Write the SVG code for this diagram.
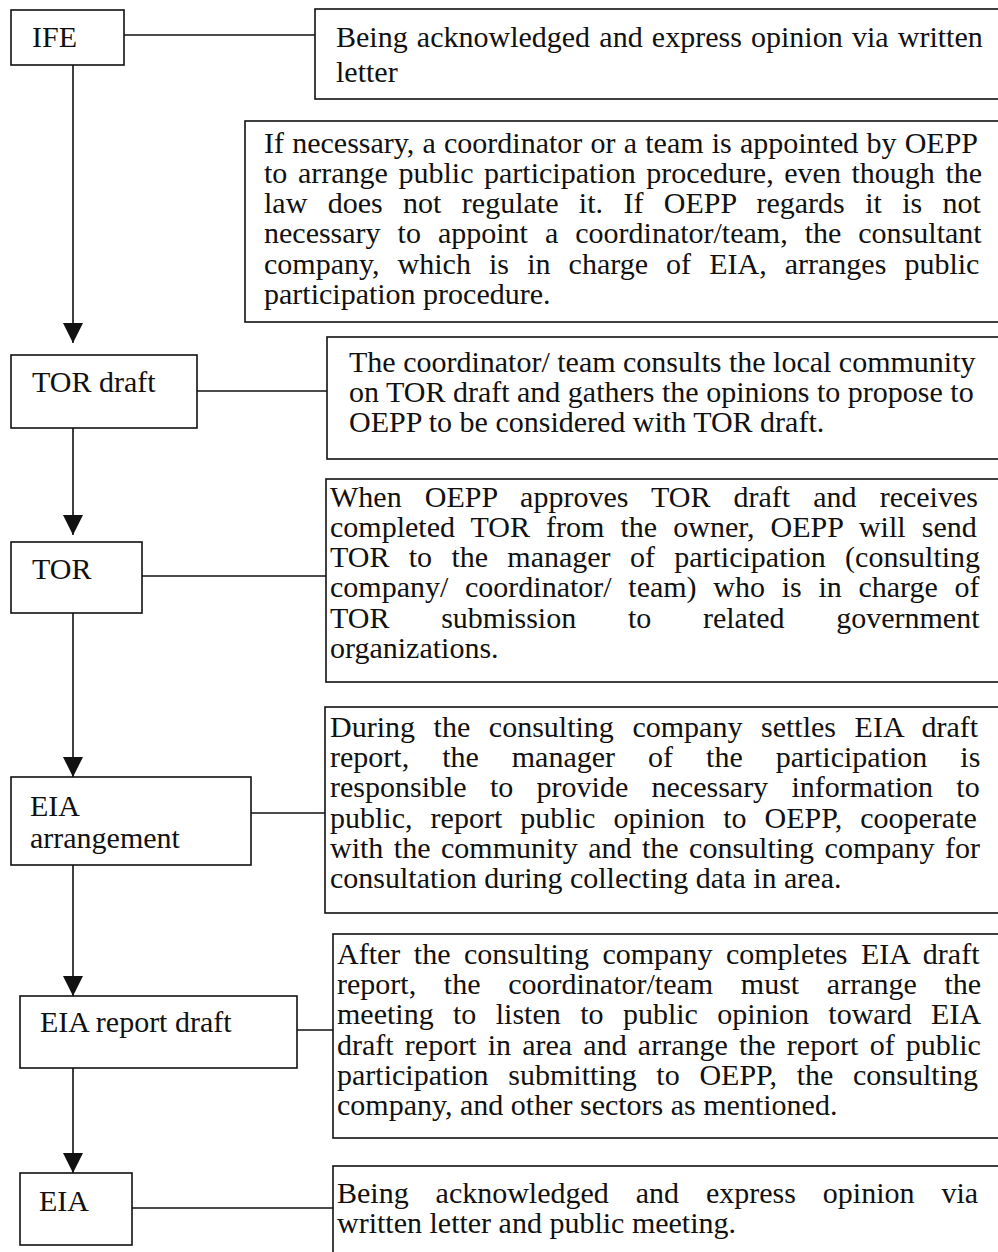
<svg xmlns="http://www.w3.org/2000/svg" width="998" height="1252" viewBox="0 0 998 1252">
  <style>
    .box { fill: #ffffff; stroke: #111111; stroke-width: 1.6; }
    .line { fill: none; stroke: #111111; stroke-width: 1.6; }
    .t { font-family: "Liberation Serif", "Times New Roman", serif; font-size: 30px; fill: #111111; }
  </style>
  <defs>
    <marker id="arrow" markerUnits="userSpaceOnUse" markerWidth="22" markerHeight="22" refX="20" refY="10" orient="auto">
      <path d="M0,0 L20,10 L0,20 Z" fill="#111111"/>
    </marker>
  </defs>

  <rect width="998" height="1252" fill="#ffffff"/>

  <!-- connectors -->
  <g id="connectors">
    <line class="line" x1="73" y1="65" x2="73" y2="343" marker-end="url(#arrow)"/>
    <line class="line" x1="73" y1="428" x2="73" y2="535" marker-end="url(#arrow)"/>
    <line class="line" x1="73" y1="613" x2="73" y2="777" marker-end="url(#arrow)"/>
    <line class="line" x1="73" y1="865" x2="73" y2="996" marker-end="url(#arrow)"/>
    <line class="line" x1="73" y1="1068" x2="73" y2="1173" marker-end="url(#arrow)"/>
    <line class="line" x1="124" y1="35" x2="315" y2="35"/>
    <line class="line" x1="197" y1="391" x2="327" y2="391"/>
    <line class="line" x1="142" y1="576" x2="326" y2="576"/>
    <line class="line" x1="251" y1="813" x2="325" y2="813"/>
    <line class="line" x1="297" y1="1030" x2="333" y2="1030"/>
    <line class="line" x1="132" y1="1208" x2="333" y2="1208"/>
  </g>

  <!-- process steps -->
  <g id="step-ife">
    <rect class="box" x="11" y="10" width="113" height="55"/>
    <text class="t" x="32" y="47">IFE</text>
  </g>
  <g id="step-tor-draft">
    <rect class="box" x="11" y="355" width="186" height="73"/>
    <text class="t" x="32" y="392">TOR draft</text>
  </g>
  <g id="step-tor">
    <rect class="box" x="11" y="542" width="131" height="71"/>
    <text class="t" x="32" y="579">TOR</text>
  </g>
  <g id="step-eia-arrangement">
    <rect class="box" x="11" y="777" width="240" height="88"/>
    <text class="t" x="30" y="816">EIA</text>
    <text class="t" x="30" y="848">arrangement</text>
  </g>
  <g id="step-eia-report-draft">
    <rect class="box" x="20" y="996" width="277" height="72"/>
    <text class="t" x="40" y="1032">EIA report draft</text>
  </g>
  <g id="step-eia">
    <rect class="box" x="20" y="1173" width="112" height="72"/>
    <text class="t" x="39" y="1211">EIA</text>
  </g>

  <!-- descriptions -->
  <g id="note-ife">
    <rect class="box" x="315" y="9" width="700" height="90"/>
    <text class="t" x="336" y="47" style="word-spacing:1.7px">Being acknowledged and express opinion via written</text>
    <text class="t" x="336" y="82">letter</text>
  </g>
  <g id="note-coordinator">
    <rect class="box" x="245" y="121" width="770" height="201"/>
    <text class="t" x="264" y="153" style="word-spacing:0.7px">If necessary, a coordinator or a team is appointed by OEPP</text>
    <text class="t" x="264" y="183" style="word-spacing:3.1px">to arrange public participation procedure, even though the</text>
    <text class="t" x="264" y="213" style="word-spacing:12.9px">law does not regulate it. If OEPP regards it is not</text>
    <text class="t" x="264" y="243" style="word-spacing:9.5px">necessary to appoint a coordinator/team, the consultant</text>
    <text class="t" x="264" y="274" style="word-spacing:10.6px">company, which is in charge of EIA, arranges public</text>
    <text class="t" x="264" y="304">participation procedure.</text>
  </g>
  <g id="note-tor-draft">
    <rect class="box" x="327" y="337" width="690" height="122"/>
    <text class="t" x="349" y="372">The coordinator/ team consults the local community</text>
    <text class="t" x="349" y="402">on TOR draft and gathers the opinions to propose to</text>
    <text class="t" x="349" y="432">OEPP to be considered with TOR draft.</text>
  </g>
  <g id="note-tor">
    <rect class="box" x="326" y="479" width="690" height="203"/>
    <text class="t" x="330" y="507" style="word-spacing:15.6px">When OEPP approves TOR draft and receives</text>
    <text class="t" x="330" y="537" style="word-spacing:8.6px">completed TOR from the owner, OEPP will send</text>
    <text class="t" x="330" y="567" style="word-spacing:11.8px">TOR to the manager of participation (consulting</text>
    <text class="t" x="330" y="597" style="word-spacing:9.2px">company/ coordinator/ team) who is in charge of</text>
    <text class="t" x="330" y="628" style="word-spacing:44.2px">TOR submission to related government</text>
    <text class="t" x="330" y="658">organizations.</text>
  </g>
  <g id="note-eia-arrangement">
    <rect class="box" x="325" y="707" width="690" height="206"/>
    <text class="t" x="330" y="737" style="word-spacing:11.1px">During the consulting company settles EIA draft</text>
    <text class="t" x="330" y="767" style="word-spacing:25.5px">report, the manager of the participation is</text>
    <text class="t" x="330" y="797" style="word-spacing:15.8px">responsible to provide necessary information to</text>
    <text class="t" x="330" y="828" style="word-spacing:10.6px">public, report public opinion to OEPP, cooperate</text>
    <text class="t" x="330" y="858" style="word-spacing:3px">with the community and the consulting company for</text>
    <text class="t" x="330" y="888">consultation during collecting data in area.</text>
  </g>
  <g id="note-eia-report-draft">
    <rect class="box" x="333" y="934" width="690" height="204"/>
    <text class="t" x="337" y="964" style="word-spacing:6px">After the consulting company completes EIA draft</text>
    <text class="t" x="337" y="994" style="word-spacing:20.2px">report, the coordinator/team must arrange the</text>
    <text class="t" x="337" y="1024" style="word-spacing:11.9px">meeting to listen to public opinion toward EIA</text>
    <text class="t" x="337" y="1055" style="word-spacing:3.7px">draft report in area and arrange the report of public</text>
    <text class="t" x="337" y="1085" style="word-spacing:12.2px">participation submitting to OEPP, the consulting</text>
    <text class="t" x="337" y="1115">company, and other sectors as mentioned.</text>
  </g>
  <g id="note-eia">
    <rect class="box" x="333" y="1166" width="690" height="120"/>
    <text class="t" x="337" y="1203" style="word-spacing:19.4px">Being acknowledged and express opinion via</text>
    <text class="t" x="337" y="1233">written letter and public meeting.</text>
  </g>
</svg>
